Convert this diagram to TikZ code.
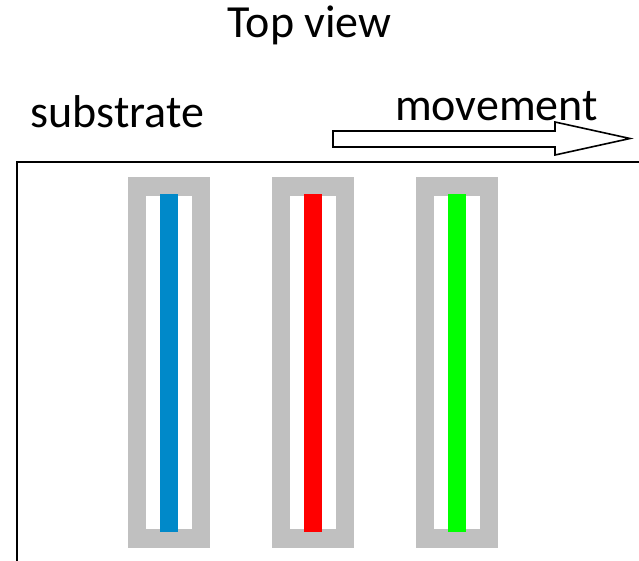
\documentclass[tikz,border=0pt]{standalone}
\usepackage{fontspec}
\setmainfont{Carlito}
\definecolor{framegray}{RGB}{192,192,192}
\definecolor{barblue}{RGB}{0,137,201}
\definecolor{barred}{RGB}{255,0,0}
\definecolor{bargreen}{RGB}{0,255,0}
\begin{document}
\begin{tikzpicture}[x=1pt,y=-1pt,
  label text/.style={inner sep=0pt,anchor=base,font=\fontsize{46}{50}\selectfont},
  outline/.style={draw=black,line width=1.6pt,line join=miter}]
\useasboundingbox (0,0) rectangle (639,560);
\begin{scope}
\clip (0,0) rectangle (639,560);
\draw[line width=2.2pt] (17,162) rectangle (660,590);
\end{scope}
\node[label text] (title) at (309.5,37) {Top view};
\node[label text] (sub) at (117.5,127) {substrate};
\node[label text] (mov) at (496.5,120) {movement};
\draw[outline,fill=white] (333,131) -- (555,131) -- (555,122) -- (630,138.5) -- (555,155) -- (555,147) -- (333,147) -- cycle;
\foreach \x/\c in {128/barblue,272/barred,416/bargreen}{
  \fill[framegray] (\x,177) rectangle ++(82,371);
  \fill[white] (\x+18,196) rectangle ++(46,333);
  \fill[\c] (\x+32,194) rectangle ++(18,338);
}
\end{tikzpicture}
\end{document}
